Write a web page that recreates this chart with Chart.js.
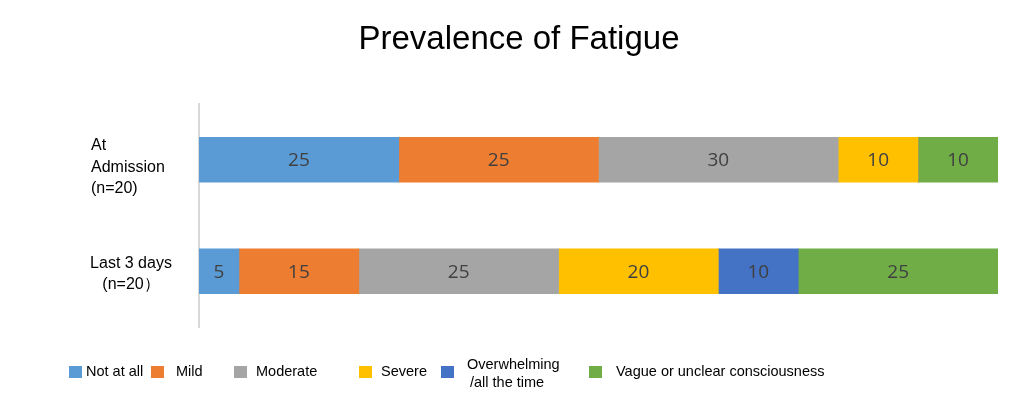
<!DOCTYPE html>
<html><head><meta charset="utf-8">
<script src="https://cdn.jsdelivr.net/npm/chart.js@4"></script>
<style>
html,body{margin:0;padding:0;background:#fff;}
#wrap{position:relative;width:1024px;height:409px;}
canvas{position:absolute;left:0;top:0;}
.lg{position:absolute;font-family:"Liberation Sans",Arial,sans-serif;font-size:14.5px;color:#000;line-height:16px;white-space:nowrap;}
.sw{position:absolute;width:13px;height:12px;}
</style></head>
<body><div id="wrap"><canvas id="c" width="1024" height="409"></canvas><div id="legend"></div></div>
<script>
const title = "Prevalence of Fatigue";
const categories = [["At","Admission","(n=20)"],["Last 3 days","(n=20\uFF09"]];
const seriesNames = ["Not at all","Mild","Moderate","Severe","Overwhelming\n/all the time","Vague or unclear consciousness"];
const notAtAll = [25, 5];
const mild = [25, 15];
const moderate = [30, 25];
const severe = [10, 20];
const overwhelming = [0, 10];
const vague = [10, 25];
const colors = ["#5B9BD5","#ED7D31","#A5A5A5","#FFC000","#4472C4","#70AD47"];
const seriesValues = [notAtAll, mild, moderate, severe, overwhelming, vague];

const datasets = seriesNames.map((n,i)=>({label:n,data:seriesValues[i],backgroundColor:colors[i],barThickness:45,borderWidth:0}));

const labelPlugin = {
  id:'lbls',
  afterDatasetsDraw(chart){
    const ctx = chart.ctx;
    ctx.save();
    ctx.font = '19px "Open Sans", "DejaVu Sans", sans-serif';
    ctx.fillStyle = '#404040';
    ctx.textAlign='center'; ctx.textBaseline='middle';
    chart.data.datasets.forEach((ds,di)=>{
      const meta = chart.getDatasetMeta(di);
      meta.data.forEach((el,j)=>{
        const v = ds.data[j];
        if(!v) return;
        const cx = (el.x + el.base)/2;
        ctx.fillText(String(v), cx, el.y+1);
      });
    });
    // category labels
    const ys = chart.scales.y;
    ctx.font = '16px "Liberation Sans", Arial, sans-serif';
    ctx.fillStyle = '#000';
    const y0 = ys.getPixelForValue(0);
    ctx.textAlign='left';
    const l0 = categories[0];
    l0.forEach((t,k)=>ctx.fillText(t, 91, y0 - 14 + k*21.5));
    const y1 = ys.getPixelForValue(1);
    ctx.textAlign='center';
    const l1 = categories[1];
    ctx.fillText(l1[0], 131, y1 - 8);
    ctx.fillText(l1[1], 131, y1 + 13);
    // title
    ctx.font = '33px "Liberation Sans", Arial, sans-serif';
    ctx.textBaseline='alphabetic';
    ctx.fillText(title, 519, 49);
    ctx.restore();
  }
};

new Chart(document.getElementById('c'),{
  type:'bar',
  data:{labels:categories.map(c=>c.join(' ')),datasets},
  options:{
    indexAxis:'y',
    responsive:false,
    animation:false,
    devicePixelRatio:1,
    layout:{padding:{top:104,left:199,right:26,bottom:82}},
    plugins:{legend:{display:false},tooltip:{enabled:false},title:{display:false}},
    scales:{
      x:{stacked:true,min:0,max:100,display:false},
      y:{stacked:true,ticks:{display:false},grid:{display:false,drawTicks:false},border:{display:true,color:'#D9D9D9',width:2}}
    }
  },
  plugins:[labelPlugin]
});

const legendPos = [
  {sx:69, tx:86},{sx:151, tx:176},{sx:234, tx:256},{sx:359, tx:381},{sx:441, tx:467},{sx:589, tx:616}
];
const lg = document.getElementById('legend');
seriesNames.forEach((n,i)=>{
  const p = legendPos[i];
  const sw = document.createElement('div');
  sw.className='sw'; sw.style.left=p.sx+'px'; sw.style.top='366px'; sw.style.background=colors[i];
  lg.appendChild(sw);
  const t = document.createElement('div');
  t.className='lg';
  if(n.includes('\n')){
    const parts=n.split('\n');
    t.innerHTML = parts[0]+'<br><span style="margin-left:3px">'+parts[1]+'</span>';
    t.style.top='355px'; t.style.lineHeight='18px';
  } else { t.textContent=n; t.style.top='363px'; }
  t.style.left=p.tx+'px';
  lg.appendChild(t);
});
</script></body></html>
